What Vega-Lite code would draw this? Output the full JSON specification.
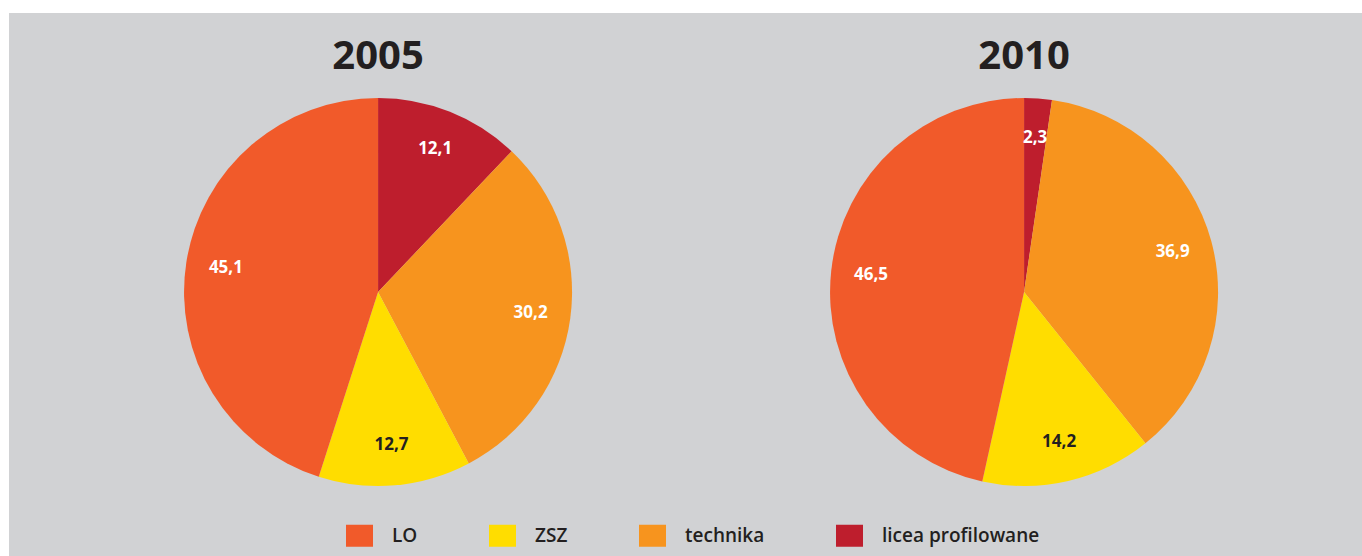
{
  "$schema": "https://vega.github.io/schema/vega-lite/v6.json",
  "width": 1362,
  "height": 556,
  "autosize": {"type": "fit", "contains": "padding"},
  "padding": {"left": 9, "top": 13, "right": 0, "bottom": 0},
  "background": "white",
  "config": {
    "view": {"fill": "#d1d2d4", "stroke": null},
    "font": "Open Sans",
    "locale": {"number": {"decimal": ",", "thousands": " ", "grouping": [3], "currency": ["", " zł"]}},
    "legend": {
      "orient": "none",
      "legendX": 337,
      "legendY": 509,
      "direction": "horizontal",
      "padding": 0,
      "columnPadding": 71,
      "symbolType": "M-1,-0.815H1V0.815H-1Z",
      "symbolSize": 729,
      "symbolStrokeWidth": 0,
      "symbolOpacity": 1,
      "labelOffset": 19,
      "labelFont": "Open Sans",
      "labelFontSize": 19,
      "labelFontWeight": 600,
      "labelColor": "#231f20",
      "labelBaseline": "middle",
      "labelLimit": 400,
      "title": null
    }
  },
  "data": {
    "values": [
      {"year": "2005", "type": "licea profilowane", "rank": 1, "value": 12.1},
      {"year": "2005", "type": "technika", "rank": 2, "value": 30.2},
      {"year": "2005", "type": "ZSZ", "rank": 3, "value": 12.7},
      {"year": "2005", "type": "LO", "rank": 4, "value": 45.1},
      {"year": "2010", "type": "licea profilowane", "rank": 1, "value": 2.3},
      {"year": "2010", "type": "technika", "rank": 2, "value": 36.9},
      {"year": "2010", "type": "ZSZ", "rank": 3, "value": 14.2},
      {"year": "2010", "type": "LO", "rank": 4, "value": 46.5}
    ]
  },
  "encoding": {
    "x": {"field": "year", "type": "nominal", "axis": null, "scale": {"type": "point", "domain": ["2005", "2010"], "padding": 0.5472, "align": 0.522}}
  },
  "layer": [
    {
      "transform": [{"filter": "datum.year === '2005'"}],
      "layer": [
        {
          "mark": {"type": "arc", "outerRadius": 194},
          "encoding": {
            "y": {"datum": "pie", "type": "nominal", "axis": null, "scale": {"type": "point", "domain": ["title", "pie"], "padding": 0.7175, "align": 0.175}},
            "theta": {"field": "value", "type": "quantitative", "stack": true},
            "order": {"field": "rank", "type": "quantitative", "sort": "ascending"},
            "color": {"field": "type", "type": "nominal", "sort": ["LO", "ZSZ", "technika", "licea profilowane"], "scale": {"domain": ["LO", "ZSZ", "technika", "licea profilowane"], "range": ["#f15a2a", "#ffdd00", "#f7941e", "#be1e2d"]}}
          }
        },
        {
          "mark": {"type": "text", "radius": 154, "fontSize": 17, "fontWeight": "bold", "baseline": "middle", "align": "center"},
          "encoding": {
            "y": {"datum": "pie", "type": "nominal"},
            "theta": {"field": "value", "type": "quantitative", "stack": true},
            "order": {"field": "rank", "type": "quantitative", "sort": "ascending"},
            "color": {"condition": {"test": "datum.type === 'ZSZ'", "value": "#231f20"}, "value": "white"},
            "text": {"field": "value", "type": "quantitative", "format": ".1f"}
          }
        }
      ]
    },
    {
      "transform": [{"filter": "datum.year === '2010'"}],
      "layer": [
        {
          "mark": {"type": "arc", "outerRadius": 194},
          "encoding": {
            "y": {"datum": "pie", "type": "nominal"},
            "theta": {"field": "value", "type": "quantitative", "stack": true},
            "order": {"field": "rank", "type": "quantitative", "sort": "ascending"},
            "color": {"field": "type", "type": "nominal", "sort": ["LO", "ZSZ", "technika", "licea profilowane"]}
          }
        },
        {
          "mark": {"type": "text", "radius": 154, "fontSize": 17, "fontWeight": "bold", "baseline": "middle", "align": "center"},
          "encoding": {
            "y": {"datum": "pie", "type": "nominal"},
            "theta": {"field": "value", "type": "quantitative", "stack": true},
            "order": {"field": "rank", "type": "quantitative", "sort": "ascending"},
            "color": {"condition": {"test": "datum.type === 'ZSZ'", "value": "#231f20"}, "value": "white"},
            "text": {"field": "value", "type": "quantitative", "format": ".1f"}
          }
        }
      ]
    },
    {
      "transform": [{"aggregate": [{"op": "count", "as": "n"}], "groupby": ["year"]}],
      "mark": {"type": "text", "fontSize": 40, "fontWeight": "bold", "baseline": "alphabetic", "align": "center", "color": "#231f20"},
      "encoding": {
        "y": {"datum": "title", "type": "nominal"},
        "text": {"field": "year", "type": "nominal"}
      }
    }
  ],
  "resolve": {"scale": {"theta": "independent"}}
}
